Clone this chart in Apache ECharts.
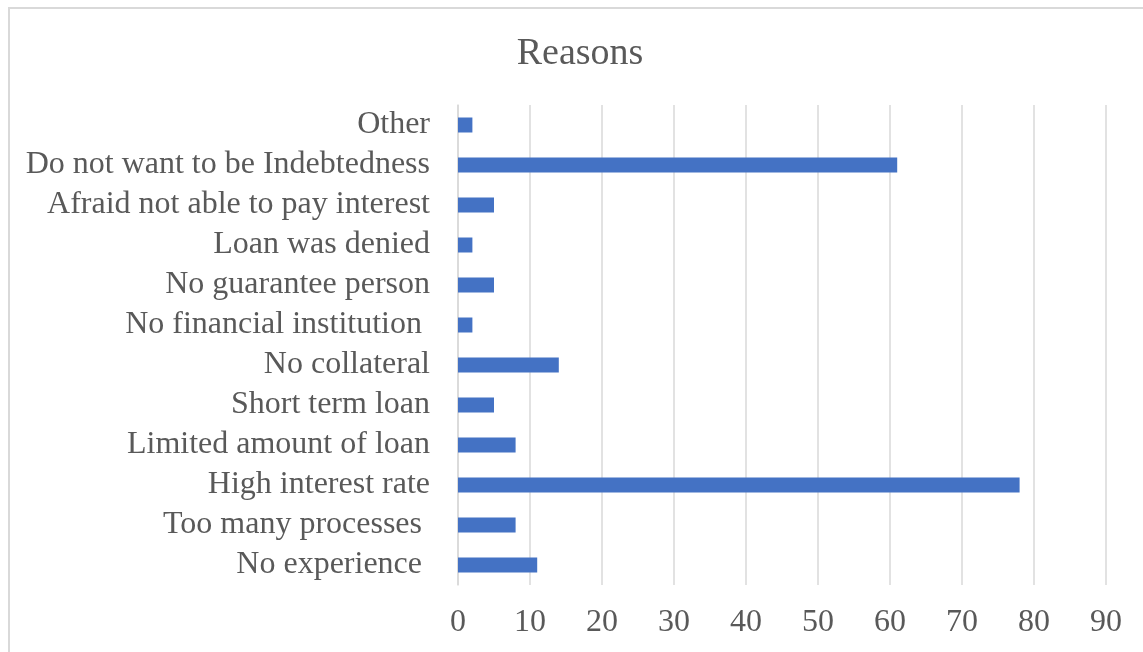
<!DOCTYPE html>
<html>
<head>
<meta charset="utf-8">
<script src="https://cdn.jsdelivr.net/npm/echarts@6/dist/echarts.min.js"></script>
<style>
html,body{margin:0;padding:0;background:#fff;}
#chart{width:1143px;height:652px;}
</style>
</head>
<body>
<div id="chart"></div>
<script>
var categories = [
  'No experience ',
  'Too many processes ',
  'High interest rate',
  'Limited amount of loan',
  'Short term loan',
  'No collateral',
  'No financial institution ',
  'No guarantee person',
  'Loan was denied',
  'Afraid not able to pay interest',
  'Do not want to be Indebtedness',
  'Other'
];
var values = [11, 8, 78, 8, 5, 14, 2, 5, 2, 5, 61, 2];
var chartTitle = 'Reasons';

var FONT = "'Liberation Serif', 'Times New Roman', serif";
var chart = echarts.init(document.getElementById('chart'));
chart.setOption({
  backgroundColor: '#ffffff',
  animation: false,
  title: {
    text: chartTitle,
    left: 575,
    top: 30,
    textAlign: 'center',
    textStyle: { fontFamily: FONT, fontSize: 38, fontWeight: 'normal', color: '#595959' }
  },
  graphic: [
    {
      type: 'rect',
      shape: { x: 9, y: 8, width: 1300, height: 800 },
      style: { fill: 'none', stroke: '#d9d9d9', lineWidth: 2 },
      silent: true
    }
  ],
  grid: { left: 458, right: 37, top: 105, bottom: 67, containLabel: false },
  xAxis: {
    type: 'value',
    min: 0,
    max: 90,
    interval: 10,
    axisLine: { show: false },
    axisTick: { show: false },
    splitLine: { show: true, lineStyle: { color: '#d9d9d9', width: 1.5 } },
    axisLabel: { fontFamily: FONT, fontSize: 32, color: '#595959', margin: 22 }
  },
  yAxis: {
    type: 'category',
    data: categories,
    axisLine: { show: true, lineStyle: { color: '#d9d9d9', width: 1.5 } },
    axisTick: { show: false },
    axisLabel: { interval: 0, fontFamily: FONT, fontSize: 32, color: '#595959', margin: 28, padding: [10, 0, 0, 0] }
  },
  series: [{
    type: 'bar',
    data: values,
    barWidth: 15,
    itemStyle: { color: '#4472C4' }
  }]
});
</script>
</body>
</html>
